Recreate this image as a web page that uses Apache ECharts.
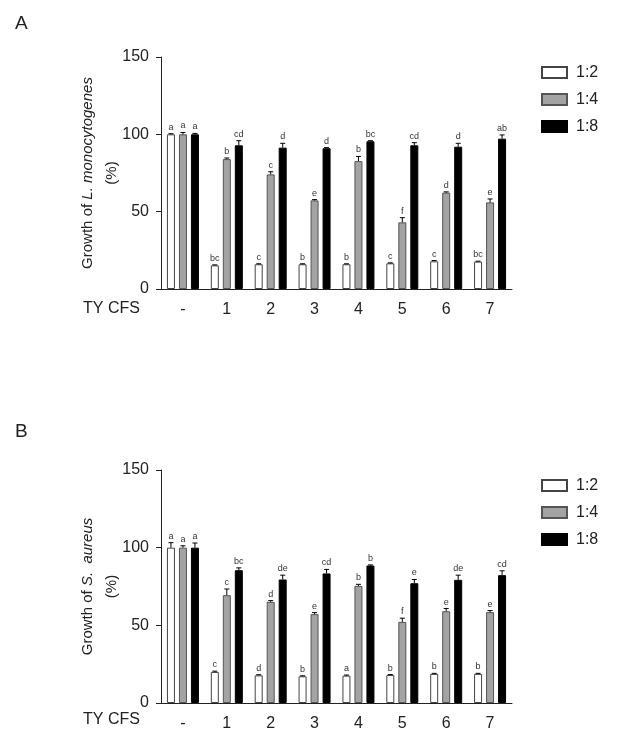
<!DOCTYPE html>
<html><head><meta charset="utf-8">
<script src="https://cdn.jsdelivr.net/npm/echarts@6/dist/echarts.min.js"></script>
<style>html,body{margin:0;padding:0;background:#fff}#c{width:625px;height:745px}</style>
</head><body><div id="c"></div>
<script>
const categories = ['-', '1', '2', '3', '4', '5', '6', '7'];
const seriesNames = ['1:2', '1:4', '1:8'];
const yTicks = [0, 50, 100, 150];

// Panel A: L. monocytogenes
const lm12 = [100, 15.3, 16.0, 16.0, 16.0, 16.6, 17.9, 17.7];
const lm14 = [100, 84.0, 74.1, 57.3, 82.7, 43.1, 62.3, 56.0];
const lm18 = [100, 92.9, 91.4, 91.0, 95.5, 92.9, 92.0, 97.2];
const lm12Err = [0.4, 0.3, 0.3, 0.3, 0.3, 0.3, 0.5, 0.3];
const lm14Err = [1.2, 0.7, 1.7, 0.5, 3.0, 3.0, 0.5, 2.2];
const lm18Err = [0.6, 3.0, 2.8, 0.4, 0.4, 1.7, 2.2, 2.4];
const lm12Let = ['a', 'bc', 'c', 'b', 'b', 'c', 'c', 'bc'];
const lm14Let = ['a', 'b', 'c', 'e', 'b', 'f', 'd', 'e'];
const lm18Let = ['a', 'cd', 'd', 'd', 'bc', 'cd', 'd', 'ab'];

// Panel B: S. aureus
const sa12 = [100, 20.0, 17.8, 17.2, 17.6, 18.0, 18.7, 18.7];
const sa14 = [100, 69.4, 65.1, 57.2, 75.4, 52.2, 59.1, 58.5];
const sa18 = [100, 85.5, 79.5, 83.4, 88.5, 77.1, 79.3, 82.3];
const sa12Err = [3.2, 0.5, 0.4, 0.3, 0.4, 0.3, 0.4, 0.4];
const sa14Err = [1.2, 4.0, 0.8, 1.0, 1.0, 2.4, 1.7, 1.0];
const sa18Err = [3.0, 1.5, 2.8, 2.6, 0.4, 2.4, 3.0, 2.8];
const sa12Let = ['a', 'c', 'd', 'b', 'a', 'b', 'b', 'b'];
const sa14Let = ['a', 'c', 'd', 'e', 'b', 'f', 'e', 'e'];
const sa18Let = ['a', 'bc', 'de', 'cd', 'b', 'e', 'de', 'cd'];

const FONT = 'Liberation Sans, Arial, sans-serif';
const TXT = '#222';
const barStyles = [
  {color: '#ffffff', borderColor: '#444', borderWidth: 1},
  {color: '#a3a3a3', borderColor: '#555', borderWidth: 1},
  {color: '#000000', borderColor: '#000', borderWidth: 1}
];
const offsets = [-12, 0, 12];

function barSeries(gi, idx, data) {
  return {
    name: seriesNames[idx], type: 'bar', xAxisIndex: gi, yAxisIndex: gi,
    data: data, barWidth: 8, barGap: '50%', itemStyle: barStyles[idx], z: 2
  };
}
function errSeries(gi, idx, means, errs, letters) {
  return {
    type: 'custom', name: 'err' + gi + idx, xAxisIndex: gi, yAxisIndex: gi, z: 5,
    data: means.map((m, i) => [i, m, errs[i]]),
    renderItem: function (params, api) {
      const i = params.dataIndex;
      const x = api.coord([api.value(0), 0])[0] + offsets[idx];
      const yBase = api.coord([api.value(0), api.value(1)])[1];
      const yTop = api.coord([api.value(0), api.value(1) + api.value(2)])[1];
      return {
        type: 'group', children: [
          {type: 'line', shape: {x1: x, y1: yBase, x2: x, y2: yTop}, style: {stroke: '#000', lineWidth: 1}},
          {type: 'line', shape: {x1: x - 2.5, y1: yTop, x2: x + 2.5, y2: yTop}, style: {stroke: '#000', lineWidth: 1}},
          {type: 'text', x: x, y: yTop - 2, style: {text: letters[i], fill: '#333', font: '9px ' + FONT, textAlign: 'center', textVerticalAlign: 'bottom'}}
        ]
      };
    }
  };
}
function xAx(gi) {
  return {
    type: 'category', gridIndex: gi, data: categories,
    axisLine: {lineStyle: {color: '#222', width: 1}},
    axisTick: {alignWithLabel: true, length: 5, lineStyle: {color: '#222'}},
    axisLabel: {color: TXT, fontSize: 16, fontFamily: FONT, margin: 13}
  };
}
function yAx(gi, nameTxt) {
  return {
    type: 'value', gridIndex: gi, min: yTicks[0], max: yTicks[yTicks.length - 1], interval: 50,
    splitLine: {show: false},
    axisLine: {show: true, lineStyle: {color: '#222', width: 1}},
    axisTick: {show: true, length: 5, lineStyle: {color: '#222'}},
    axisLabel: {color: TXT, fontSize: 16, fontFamily: FONT, margin: 12},
    name: nameTxt, nameLocation: 'middle', nameGap: 37, nameRotate: 90, nameMoveOverlap: false,
    nameTextStyle: {color: TXT, fontSize: 15, fontStyle: 'normal', fontFamily: FONT, lineHeight: 24, align: 'center',
      rich: {
        n: {fontStyle: 'normal', fontSize: 15, fontFamily: FONT, color: TXT, lineHeight: 24},
        i: {fontStyle: 'italic', fontSize: 15, fontFamily: FONT, color: TXT, lineHeight: 24}
      }}
  };
}
function legend(top) {
  return {
    data: seriesNames.map(n => ({name: n, icon: 'rect'})), orient: 'vertical', left: 536, top: top,
    itemWidth: 25, itemHeight: 11, itemGap: 10,
    textStyle: {color: TXT, fontSize: 16, fontFamily: FONT, lineHeight: 17, padding: [0, 0, 0, 4]},
    selectedMode: false
  };
}

const chart = echarts.init(document.getElementById('c'), null, {renderer: 'canvas'});
chart.setOption({
  animation: false,
  grid: [
    {left: 161, top: 57, width: 351, height: 232},
    {left: 161, top: 470, width: 351, height: 233}
  ],
  legend: [legend(59), legend(472)],
  xAxis: [xAx(0), xAx(1)],
  yAxis: [
    yAx(0, '{n|Growth of }{i|L. monocytogenes}\n{n|(%)}'),
    yAx(1, '{n|Growth of }{i|S.  aureus}\n{n|(%)}')
  ],
  graphic: [
    {type: 'text', left: 15, top: 14, style: {text: 'A', font: '19px ' + FONT, fill: TXT}},
    {type: 'text', left: 15, top: 422, style: {text: 'B', font: '19px ' + FONT, fill: TXT}},
    {type: 'text', left: 83, top: 301, style: {text: 'TY CFS', font: '16px ' + FONT, fill: TXT}},
    {type: 'text', left: 83, top: 712, style: {text: 'TY CFS', font: '16px ' + FONT, fill: TXT}}
  ],
  series: [
    barSeries(0, 0, lm12), barSeries(0, 1, lm14), barSeries(0, 2, lm18),
    errSeries(0, 0, lm12, lm12Err, lm12Let), errSeries(0, 1, lm14, lm14Err, lm14Let), errSeries(0, 2, lm18, lm18Err, lm18Let),
    barSeries(1, 0, sa12), barSeries(1, 1, sa14), barSeries(1, 2, sa18),
    errSeries(1, 0, sa12, sa12Err, sa12Let), errSeries(1, 1, sa14, sa14Err, sa14Let), errSeries(1, 2, sa18, sa18Err, sa18Let)
  ]
});
</script></body></html>
